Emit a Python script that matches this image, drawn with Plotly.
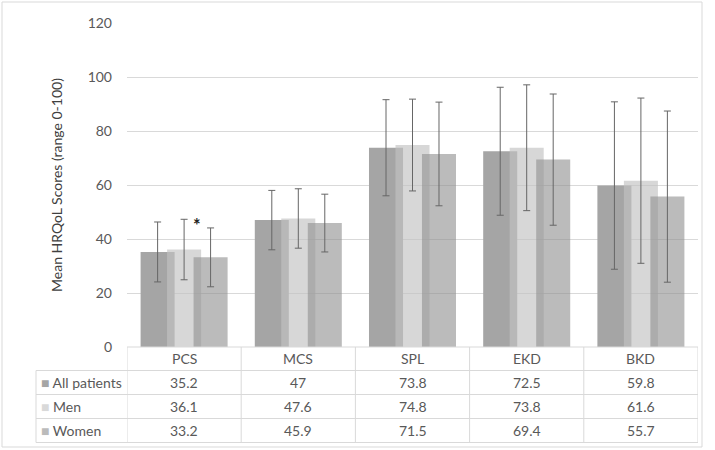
import plotly.graph_objects as go

categories = ["PCS", "MCS", "SPL", "EKD", "BKD"]
series_names = ["All patients", "Men", "Women"]
all_patients = [35.2, 47, 73.8, 72.5, 59.8]
men = [36.1, 47.6, 74.8, 73.8, 61.6]
women = [33.2, 45.9, 71.5, 69.4, 55.7]
sd_all = [11.1, 11.0, 17.8, 23.7, 31.0]
sd_men = [11.2, 11.0, 17.0, 23.3, 30.6]
sd_women = [10.9, 10.7, 19.2, 24.3, 31.7]
y_ticks = [0, 20, 40, 60, 80, 100, 120]

series_values = [all_patients, men, women]
series_sd = [sd_all, sd_men, sd_women]
bar_colors = ["rgba(165,165,165,1)", "rgba(195,195,195,0.66)", "rgba(144,144,144,0.615)"]
swatch_colors = ["#a5a5a5", "#d9d9d9", "#bbbbbb"]
offsets = [-0.381, -0.149, 0.083]
bar_w = 0.298

FONT = "Lato"
TXT = "#595959"
GRID = "#d9d9d9"

# pixel geometry helpers
L, R, T, B = 127, 17, 23, 103
W, H = 715, 450
PW, PH = W - L - R, H - T - B


def px_x(p):
    return (p - L) / PW


def px_y(p):
    return (H - B - p) / PH


fig = go.Figure()
for name, vals, sds, col, off in zip(series_names, series_values, series_sd, bar_colors, offsets):
    fig.add_trace(go.Bar(
        x=categories, y=vals, name=name,
        marker=dict(color=col, line=dict(width=0)),
        width=bar_w, offset=off,
        error_y=dict(type="data", array=sds, visible=True, color="#666666", thickness=1, width=3.5),
        showlegend=False,
    ))

shapes = []
annotations = []

# outer frame
shapes.append(dict(type="rect", xref="paper", yref="paper", x0=px_x(2), x1=px_x(702),
                   y0=px_y(447), y1=px_y(2), line=dict(color=GRID, width=1), layer="below"))

# table rows
row_edges = [347, 370.5, 394.5, 418.5, 442.5]
for i, py in enumerate(row_edges):
    x0 = px_x(127) if i == 0 else px_x(36)
    shapes.append(dict(type="line", xref="paper", yref="paper", x0=x0, x1=1,
                       y0=px_y(py), y1=px_y(py), line=dict(color=GRID, width=1)))
# vertical lines
shapes.append(dict(type="line", xref="paper", yref="paper", x0=px_x(36), x1=px_x(36),
                   y0=px_y(370.5), y1=px_y(442.5), line=dict(color=GRID, width=1)))
for k in range(len(categories) + 1):
    shapes.append(dict(type="line", xref="x", yref="paper", x0=k - 0.5, x1=k - 0.5,
                       y0=px_y(347), y1=px_y(442.5), line=dict(color=GRID, width=1)))

# header labels
for i, c in enumerate(categories):
    annotations.append(dict(x=i, y=px_y((row_edges[0] + row_edges[1]) / 2), xref="x", yref="paper",
                            text=c, showarrow=False, font=dict(family=FONT, size=14, color=TXT),
                            xanchor="center", yanchor="middle"))
# rows
for r, (name, vals) in enumerate(zip(series_names, series_values)):
    yc = px_y((row_edges[r + 1] + row_edges[r + 2]) / 2)
    annotations.append(dict(x=px_x(39), y=yc, xref="paper", yref="paper",
                            text=f"<span style='color:{swatch_colors[r]}'>■</span> {name}",
                            showarrow=False, font=dict(family=FONT, size=14, color=TXT),
                            xanchor="left", yanchor="middle"))
    for i, v in enumerate(vals):
        annotations.append(dict(x=i, y=yc, xref="x", yref="paper", text=f"{v:g}",
                                showarrow=False, font=dict(family=FONT, size=14, color=TXT),
                                xanchor="center", yanchor="middle"))

# y axis title
annotations.append(dict(x=px_x(56), y=0.5, xref="paper", yref="paper",
                        text="Mean HRQoL Scores (range 0-100)", textangle=-90, showarrow=False,
                        font=dict(family=FONT, size=14, color="#404040"),
                        xanchor="center", yanchor="middle"))

# significance asterisk
annotations.append(dict(x=categories[0], y=men[0] + sd_men[0], xref="x", yref="y", text="<b>*</b>",
                        showarrow=False, xshift=13, yshift=-19, font=dict(family=FONT, size=18, color="#222222"),
                        xanchor="center", yanchor="bottom"))

fig.update_layout(
    width=W, height=H,
    margin=dict(l=L, r=R, t=T, b=B),
    barmode="overlay",
    plot_bgcolor="white", paper_bgcolor="white",
    shapes=shapes, annotations=annotations,
    xaxis=dict(type="category", showticklabels=False, showgrid=False, zeroline=False,
               showline=False, range=[-0.5, 4.5], fixedrange=True),
    yaxis=dict(range=[0, 120], tickvals=y_ticks, showgrid=True, gridcolor=GRID, gridwidth=1,
               zeroline=False, showline=False, ticks="", ticklabelstandoff=14,
               tickfont=dict(family=FONT, size=14, color=TXT), fixedrange=True),
    font=dict(family=FONT),
)

fig.write_html("out.html", config={"displayModeBar": False},
               post_script="document.body.style.margin='0';document.body.style.overflow='hidden';")
